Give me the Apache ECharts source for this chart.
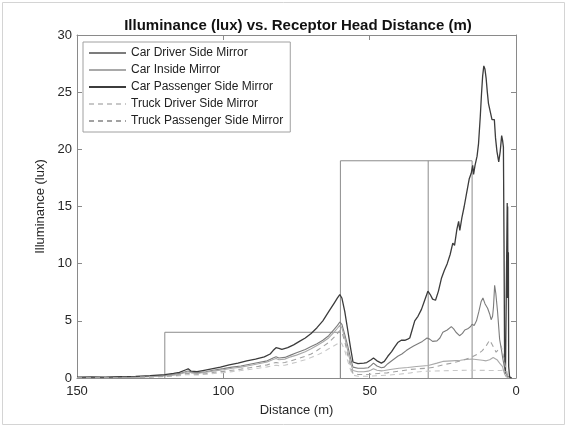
<!DOCTYPE html>
<html>
<head>
<meta charset="utf-8">
<script src="https://cdn.jsdelivr.net/npm/echarts@6/dist/echarts.min.js"></script>
<style>
  html, body { margin: 0; padding: 0; background: #fff; }
  #chart { width: 568px; height: 428px; }
</style>
</head>
<body>
<div id="chart"></div>
<script>
// Illuminance readings [distance (m), lux] per mirror position
const carDriverSide = [
  [150,0.05],[140,0.06],[130,0.1],[125,0.15],[120,0.22],[117,0.3],[115,0.38],[113,0.55],[112,0.62],[111,0.5],
  [109,0.45],[106,0.55],[103,0.7],[100,0.82],[97,0.95],[94,1.05],[91,1.2],[88,1.35],[85,1.5],[83,1.75],
  [82,1.85],[81,1.75],[79,1.8],[77,2.0],[75,2.2],[72,2.5],[70,2.75],[68,3.0],[66,3.3],[64,3.7],
  [62,4.3],[61,4.6],[60.2,4.9],[59.5,4.7],[58.5,3.8],[57.5,2.8],[56.5,1.7],[55.7,0.95],[54,0.85],[52,0.85],
  [50.5,0.9],[49.5,1.1],[48.7,1.3],[47.5,1.05],[46,0.9],[45,0.95],[43.8,1.25],[42,1.6],[40.4,1.9],[39,2.1],
  [37.5,2.4],[36.3,2.6],[35,2.8],[33.5,3.0],[32,3.2],[30.4,3.5],[29.5,3.4],[28.5,3.2],[27,3.25],[26,3.5],
  [25,4.0],[23.5,4.2],[22.1,4.5],[21.3,4.3],[20.5,4.0],[19.3,3.7],[18.3,3.9],[17.5,4.2],[16.5,4.3],[15.5,4.5],
  [15,4.7],[14.3,4.6],[13.5,5.0],[12.7,5.8],[11.9,6.7],[11.3,7.0],[10.6,6.5],[10.2,6.6],[9.7,6.1],[9.0,5.6],
  [8.5,5.1],[8,5.4],[7.7,6.2],[7.3,8.1],[6.9,7.4],[6.3,5.8],[5.6,3.4],[5.0,2.5],[4.5,1.7],[4.0,1.0],
  [3.5,0.5],[3.0,0.15],[2.5,0.03],[1.5,0]
];
const carInside = [
  [150,0.04],[140,0.05],[130,0.08],[125,0.12],[120,0.18],[117,0.25],[115,0.32],[113,0.48],[112,0.55],[111,0.45],
  [109,0.4],[106,0.5],[103,0.62],[100,0.72],[97,0.85],[94,0.95],[91,1.1],[88,1.25],[85,1.4],[83,1.62],
  [82,1.7],[81,1.6],[79,1.65],[77,1.85],[75,2.0],[72,2.3],[70,2.55],[68,2.85],[66,3.15],[64,3.5],
  [62,4.05],[61,4.35],[60.2,4.6],[59.5,4.4],[58.5,3.5],[57.5,2.4],[56.5,1.3],[55.7,0.65],[54,0.55],[52,0.55],
  [50.5,0.6],[49.5,0.7],[48.7,0.8],[47.5,0.68],[46,0.62],[45,0.66],[43,0.75],[40,0.85],[37,0.92],[34,1.0],
  [30,1.1],[27,1.3],[25,1.45],[22,1.5],[19,1.55],[17,1.62],[15,1.66],[13,1.6],[11.5,1.55],[10.2,1.5],
  [9,1.6],[7.8,1.8],[7.3,1.8],[6.5,1.6],[5.6,1.3],[5.1,1.2],[4.6,1.0],[4.2,0.6],[3.8,0.3],[3.3,0.1],[2.5,0]
];
const carPassengerSide = [
  [150,0.08],[145,0.1],[140,0.08],[135,0.12],[130,0.15],[125,0.2],[120,0.3],[117,0.4],[115,0.5],[113,0.7],
  [112,0.8],[111,0.6],[109,0.55],[107,0.65],[104,0.8],[101,0.95],[98,1.15],[95,1.3],[92,1.5],[89,1.65],
  [86,1.85],[84,2.1],[83,2.4],[82,2.65],[81,2.6],[80,2.5],[78,2.65],[76,2.9],[74,3.2],[72,3.5],
  [70,3.9],[68,4.4],[66,5.0],[64,5.8],[62,6.6],[61,7.0],[60.2,7.3],[59.5,7.0],[58.5,5.8],[57.5,4.2],
  [56.5,2.6],[55.7,1.4],[54,1.25],[52,1.3],[51,1.35],[49.5,1.6],[48.7,1.75],[47.5,1.5],[46,1.3],[45,1.45],
  [43.8,1.9],[42.5,2.3],[41.5,2.7],[40.4,3.1],[39.2,3.3],[38,3.3],[37,3.4],[36.3,3.5],[35.5,4.2],[34.6,5.0],
  [33.5,5.4],[32.3,6.0],[31.2,6.8],[30.5,7.3],[30.1,7.6],[29.3,7.3],[28.5,6.9],[27.5,6.8],[26.5,7.6],[25.5,8.7],
  [24.5,9.4],[23.5,10.0],[22.5,10.8],[21.6,11.8],[21,11.6],[20.2,13.0],[19.6,13.7],[19.2,12.9],[18.5,14.0],[17.7,15.0],
  [17,16.0],[16,17.4],[15.3,17.9],[14.8,18.6],[14.5,17.8],[14,18.6],[13.3,19.4],[12.8,20.5],[12.2,22.9],[11.8,24.8],
  [11.4,26.4],[11.0,27.3],[10.6,27.0],[10.2,26.2],[9.8,25.0],[9.4,24.0],[8.8,23.3],[8.2,22.6],[7.4,22.6],[7,21.0],
  [6.5,19.8],[5.9,18.9],[5.4,19.8],[4.9,21.2],[4.6,20.8],[4.3,20.2],[4.1,12],[3.9,2.0],[3.6,0.4],[3.2,0.3],
  [3.0,15.3],[2.9,7.0],[2.85,15.0],[2.75,7.2],[2.6,11],[2.5,1.0],[2.2,0.1],[1.5,0]
];
const truckDriverSide = [
  [150,0.03],[140,0.03],[130,0.05],[125,0.08],[120,0.12],[117,0.16],[115,0.2],[113,0.28],[112,0.3],[111,0.27],
  [109,0.26],[106,0.32],[103,0.4],[100,0.47],[97,0.56],[94,0.65],[91,0.75],[88,0.85],[85,0.97],[83,1.08],
  [82,1.12],[81,1.08],[79,1.12],[77,1.25],[75,1.38],[72,1.6],[70,1.8],[68,2.0],[66,2.25],[64,2.55],
  [62,2.85],[61,3.0],[60.2,3.15],[59.5,3.0],[58.5,2.4],[57.5,1.5],[56.5,0.7],[55.7,0.25],[54,0.15],[52,0.15],
  [50,0.16],[47,0.2],[44,0.25],[40,0.33],[36,0.45],[33,0.55],[30,0.6],[25,0.63],[20,0.66],[15,0.68],
  [10,0.66],[7,0.65],[5,0.66],[4,0.75],[3.5,0.8],[3.0,0.35],[2.5,0]
];
const truckPassengerSide = [
  [150,0.03],[140,0.04],[130,0.06],[125,0.1],[120,0.15],[117,0.2],[115,0.26],[113,0.38],[112,0.42],[111,0.36],
  [109,0.33],[106,0.4],[103,0.5],[100,0.58],[97,0.68],[94,0.78],[91,0.9],[88,1.02],[85,1.15],[83,1.3],
  [82,1.36],[81,1.3],[79,1.35],[77,1.5],[75,1.65],[72,1.9],[70,2.1],[68,2.4],[66,2.75],[64,3.1],
  [62,3.6],[61,3.9],[60.2,4.15],[59.5,4.0],[58.5,3.2],[57.5,2.0],[56.5,1.0],[55.7,0.4],[54,0.3],[52,0.3],
  [50,0.33],[47,0.4],[44,0.45],[40,0.6],[36,0.75],[33,0.82],[30.6,0.85],[28,0.95],[25,1.15],[22,1.3],
  [19,1.5],[17,1.65],[15,1.85],[13,2.1],[11.5,2.4],[10.2,2.8],[9.5,3.1],[9.0,3.3],[8.3,3.0],[7.5,2.6],
  [6.8,2.25],[6.0,2.5],[5.1,2.8],[4.5,2.2],[4.0,1.5],[3.6,1.0],[3.3,0.8],[3.0,0.3],[2.5,0]
];

// Highlighted distance zones, outlined as [distance, lux] corner paths
const zoneFar = [[120,0],[120,4],[60,4],[60,0]];
const zoneNear = [[60,0],[60,19],[15,19],[15,0]];
const zoneDivider = [[30,0],[30,19]];

// Axis ticks
const distanceTicks = [0, 50, 100, 150];
const luxTicks = [0, 5, 10, 15, 20, 25, 30];

const seriesNames = [
  'Car Driver Side Mirror',
  'Car Inside Mirror',
  'Car Passenger Side Mirror',
  'Truck Driver Side Mirror',
  'Truck Passenger Side Mirror'
];

const FONT = '"Liberation Sans", Arial, Helvetica, sans-serif';
const axisGray = '#8a8a8a';
const textDark = '#262626';

function curve(name, data, color, dashed, width) {
  return {
    name, type: 'line', data,
    symbol: 'none', showSymbol: false, smooth: false,
    lineStyle: { color, width, type: dashed ? [5, 4] : 'solid' },
    itemStyle: { color },
    emphasis: { disabled: true },
    z: 3
  };
}
function outline(data) {
  return {
    type: 'line', data, symbol: 'none', silent: true,
    lineStyle: { color: '#8c8c8c', width: 1 },
    emphasis: { disabled: true }, z: 2
  };
}

const chart = echarts.init(document.getElementById('chart'), null, { renderer: 'canvas' });
const valueX = (pos) => ({
  type: 'value', position: pos, min: distanceTicks[0], max: distanceTicks[distanceTicks.length - 1],
  interval: distanceTicks[1] - distanceTicks[0], inverse: true,
  axisLine: { show: true, onZero: false, lineStyle: { color: axisGray, width: 1 } },
  axisTick: { show: true, inside: true, length: 5, lineStyle: { color: axisGray } },
  splitLine: { show: false },
  axisLabel: pos === 'bottom'
    ? { show: true, color: textDark, fontFamily: FONT, fontSize: 13, margin: 7 }
    : { show: false }
});
const valueY = (pos) => ({
  type: 'value', position: pos, min: luxTicks[0], max: luxTicks[luxTicks.length - 1],
  interval: luxTicks[1] - luxTicks[0],
  axisLine: { show: true, onZero: false, lineStyle: { color: axisGray, width: 1 } },
  axisTick: { show: true, inside: true, length: 5, lineStyle: { color: axisGray } },
  splitLine: { show: false },
  axisLabel: pos === 'left'
    ? { show: true, color: textDark, fontFamily: FONT, fontSize: 13, margin: 5 }
    : { show: false }
});

const xBottom = Object.assign(valueX('bottom'), {
  name: 'Distance (m)', nameLocation: 'middle', nameGap: 26,
  nameTextStyle: { color: textDark, fontFamily: FONT, fontSize: 13 }
});
const yLeft = Object.assign(valueY('left'), {
  name: 'Illuminance (lux)', nameLocation: 'middle', nameGap: 18,
  nameTextStyle: { color: textDark, fontFamily: FONT, fontSize: 13 }
});

chart.setOption({
  animation: false,
  backgroundColor: '#ffffff',
  textStyle: { fontFamily: FONT },
  title: {
    text: 'Illuminance (lux) vs. Receptor Head Distance (m)',
    left: 293, textAlign: 'center', top: 13,
    textStyle: { fontFamily: FONT, fontSize: 15, fontWeight: 'bold', color: '#111' }
  },
  grid: { left: 77, right: 52, top: 35, bottom: 50, containLabel: false },
  xAxis: [xBottom, Object.assign(valueX('top'), { gridIndex: 0 })],
  yAxis: [yLeft, Object.assign(valueY('right'), { gridIndex: 0 })],
  legend: {
    data: seriesNames,
    orient: 'vertical', left: 83, top: 42,
    itemWidth: 37, itemHeight: 11.5, itemGap: 5,
    padding: [5, 7, 5, 5],
    borderColor: '#a0a0a0', borderWidth: 1, backgroundColor: '#fff',
    selectedMode: false,
    itemStyle: { opacity: 0, borderWidth: 0 },
    textStyle: { fontFamily: FONT, fontSize: 12, color: '#222' }
  },
  graphic: [{
    type: 'rect', silent: true, z: -10,
    shape: { x: 2.5, y: 2.5, width: 562, height: 422 },
    style: { fill: 'none', stroke: '#d4d4d4', lineWidth: 1 }
  }],
  series: [
    curve(seriesNames[0], carDriverSide, '#7c7c7c', false, 1.1),
    curve(seriesNames[1], carInside, '#a9a9a9', false, 1.1),
    curve(seriesNames[2], carPassengerSide, '#3c3c3c', false, 1.3),
    curve(seriesNames[3], truckDriverSide, '#c8c8c8', true, 1.1),
    curve(seriesNames[4], truckPassengerSide, '#a2a2a2', true, 1.1),
    outline(zoneFar),
    outline(zoneNear),
    outline(zoneDivider)
  ]
});
</script>
</body>
</html>
